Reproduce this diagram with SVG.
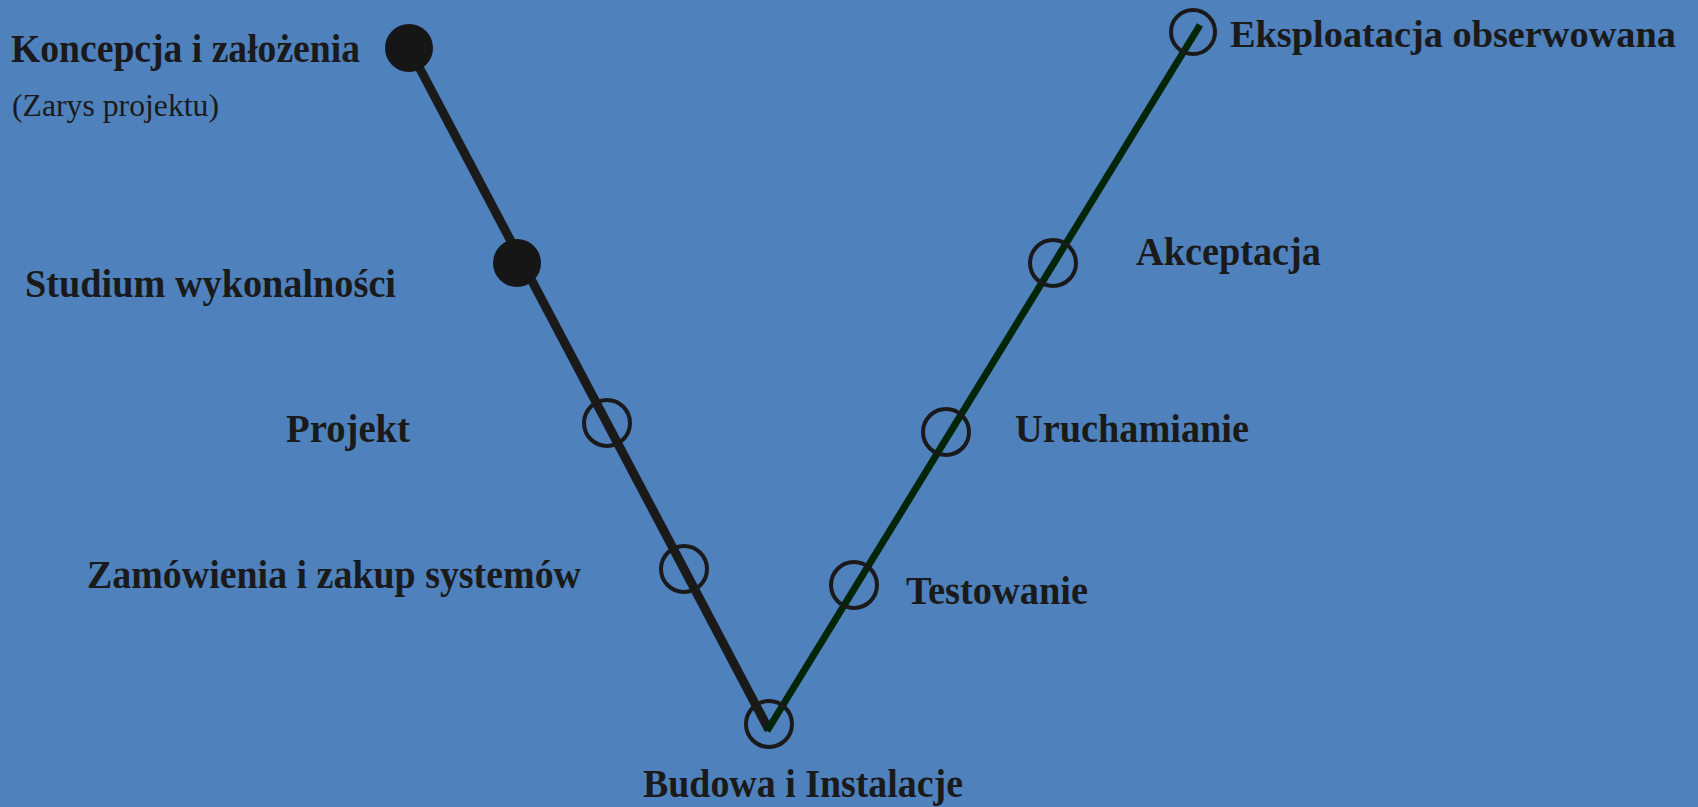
<svg xmlns="http://www.w3.org/2000/svg" width="1698" height="807" viewBox="0 0 1698 807">
<style>
.lbl{font-family:"Liberation Serif","Times New Roman",serif;font-weight:bold;font-size:41px;fill:#1a1a1a}
.sub{font-family:"Liberation Serif","Times New Roman",serif;font-size:32px;fill:#1a1a1a}
.open{fill:none;stroke:#1a1a1a;stroke-width:4}
.filled{fill:#161616;stroke:none}
</style>
<rect x="0" y="0" width="1698" height="807" fill="#4f81bd"/>
<g id="connectors">
<line x1="409" y1="48" x2="769" y2="730" stroke="#1a1a1a" stroke-width="9"/>
<line x1="767" y1="731" x2="1200" y2="25" stroke="#002507" stroke-width="7"/>
</g>
<g id="koncepcja">
<circle class="filled" cx="409" cy="48" r="24"/>
<text class="lbl" x="11" y="62" textLength="349" lengthAdjust="spacingAndGlyphs">Koncepcja i założenia</text>
<text class="sub" x="12" y="116" textLength="207" lengthAdjust="spacingAndGlyphs">(Zarys projektu)</text>
</g>
<g id="studium">
<circle class="filled" cx="517" cy="263" r="24"/>
<text class="lbl" x="25" y="297" textLength="371" lengthAdjust="spacingAndGlyphs">Studium wykonalności</text>
</g>
<g id="projekt">
<circle class="open" cx="607" cy="423" r="23"/>
<text class="lbl" x="286" y="442" textLength="124" lengthAdjust="spacingAndGlyphs">Projekt</text>
</g>
<g id="zamowienia">
<circle class="open" cx="684" cy="569" r="23"/>
<text class="lbl" x="87" y="588" textLength="494" lengthAdjust="spacingAndGlyphs">Zamówienia i zakup systemów</text>
</g>
<g id="budowa">
<circle class="open" cx="769" cy="724" r="23"/>
<text class="lbl" x="643" y="797" textLength="320" lengthAdjust="spacingAndGlyphs">Budowa i Instalacje</text>
</g>
<g id="testowanie">
<circle class="open" cx="854" cy="585" r="23"/>
<text class="lbl" x="906" y="604" textLength="182" lengthAdjust="spacingAndGlyphs">Testowanie</text>
</g>
<g id="uruchamianie">
<circle class="open" cx="946" cy="432" r="23"/>
<text class="lbl" x="1015" y="442" textLength="234" lengthAdjust="spacingAndGlyphs">Uruchamianie</text>
</g>
<g id="akceptacja">
<circle class="open" cx="1053" cy="263" r="23"/>
<text class="lbl" x="1136" y="265" textLength="185" lengthAdjust="spacingAndGlyphs">Akceptacja</text>
</g>
<g id="eksploatacja">
<circle class="open" cx="1193" cy="32" r="22"/>
<text class="lbl" x="1230" y="47" style="font-size:38px" textLength="446" lengthAdjust="spacingAndGlyphs">Eksploatacja obserwowana</text>
</g>
</svg>
